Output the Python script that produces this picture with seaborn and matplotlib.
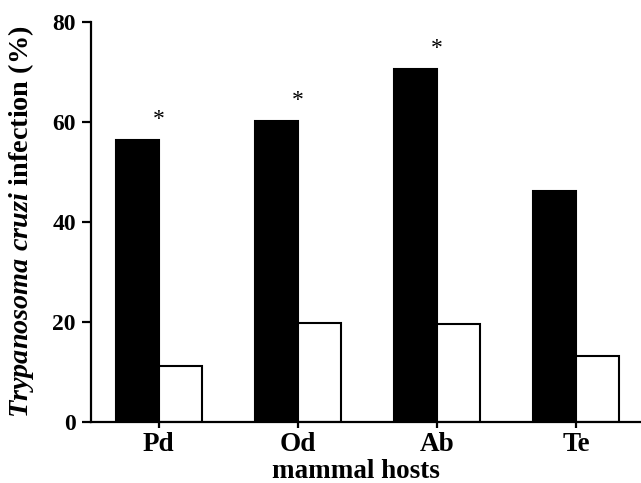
import pandas as pd
import matplotlib
matplotlib.use('Agg')
import matplotlib.pyplot as plt
import seaborn as sns

# values
hosts = ['Pd', 'Od', 'Ab', 'Te']
group_a = [56.3, 60.1, 70.5, 46.2]   # black bars
group_b = [11.3, 19.9, 19.6, 13.3]   # white bars
signif = [True, True, True, False]   # asterisk above group

df = pd.DataFrame({
    'host': hosts * 2,
    'pct': group_a + group_b,
    'group': ['A'] * len(hosts) + ['B'] * len(hosts),
})

sns.set_style('ticks')
plt.rcParams['font.family'] = ['Liberation Serif', 'DejaVu Serif']
plt.rcParams['font.weight'] = 'bold'
plt.rcParams['mathtext.fontset'] = 'custom'
plt.rcParams['mathtext.it'] = 'Liberation Serif:italic:bold'
plt.rcParams['mathtext.rm'] = 'Liberation Serif:bold'
plt.rcParams['mathtext.bf'] = 'Liberation Serif:bold'
for k in ['text.color', 'axes.labelcolor', 'xtick.color', 'ytick.color', 'axes.edgecolor']:
    plt.rcParams[k] = 'black'

fig = plt.figure(figsize=(6.41, 4.83), dpi=100)
ax = fig.add_axes([0.1412, 0.1257, 0.8588, 0.8294])

sns.barplot(data=df, x='host', y='pct', hue='group', palette=['black', 'white'],
            width=0.62, edgecolor='black', linewidth=1.5, saturation=1,
            legend=False, ax=ax)

for i, (v, s) in enumerate(zip(group_a, signif)):
    if s:
        ax.text(i, v + 3.0, '*', ha='center', va='baseline', fontsize=17,
                fontweight='normal')

ax.set_xlim(-0.49, 3.466)
ax.set_ylim(0, 80)
ax.set_yticks([0, 20, 40, 60, 80])
sns.despine(ax=ax)
for sp in ['left', 'bottom']:
    ax.spines[sp].set_linewidth(1.6)
ax.tick_params(axis='y', length=6.5, width=1.6, pad=4, labelsize=17)
ax.tick_params(axis='x', length=4.3, width=1.6, pad=3, labelsize=19.5)
for lab in ax.get_xticklabels() + ax.get_yticklabels():
    lab.set_fontweight('bold')

ax.set_xlabel('mammal hosts', fontsize=19.5, fontweight='bold', labelpad=1)
ax.xaxis.label.set_x(0.482)
ax.set_ylabel(r'$\mathit{Trypanosoma\ cruzi}$ infection (%)', fontsize=20.3,
              fontweight='bold', labelpad=12)

fig.savefig('out.png', dpi=100)
